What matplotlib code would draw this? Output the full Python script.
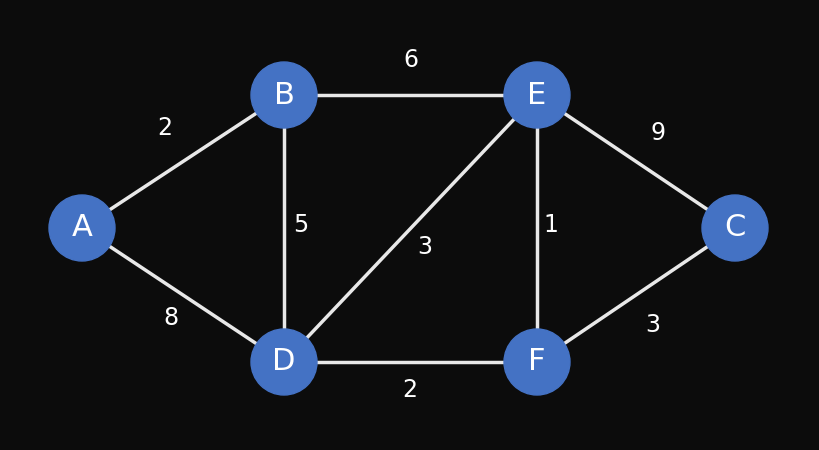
import matplotlib.pyplot as plt
from matplotlib.patches import Circle

# node positions (pixel coords of the reference)
nodes = ["A", "B", "E", "C", "D", "F"]
node_x = [82, 284, 537, 735, 284, 537]
node_y = [228, 95, 95, 228, 362, 362]

edges = [("A", "B"), ("B", "E"), ("E", "C"), ("B", "D"), ("D", "E"),
         ("E", "F"), ("A", "D"), ("D", "F"), ("F", "C")]
weights = [2, 6, 9, 5, 3, 1, 8, 2, 3]
label_x = [165, 411, 658, 301, 425, 551, 171, 410, 653]
label_y = [128, 60, 133, 225, 247, 225, 318, 390, 325]

pos = {n: (x, y) for n, x, y in zip(nodes, node_x, node_y)}

fig = plt.figure(figsize=(8.2, 4.5), dpi=100, facecolor="#0c0c0c")
ax = fig.add_axes([0, 0, 1, 1])
ax.set_facecolor("#0c0c0c")
ax.set_xlim(0, 820)
ax.set_ylim(450, 0)
ax.set_aspect("equal")
ax.axis("off")

for (a, b) in edges:
    ax.plot([pos[a][0], pos[b][0]], [pos[a][1], pos[b][1]],
            color="#e8e8e8", lw=2.5, zorder=1)

for w, x, y in zip(weights, label_x, label_y):
    ax.text(x, y, str(w), color="white", fontsize=17, ha="center", va="center")

for n in nodes:
    x, y = pos[n]
    ax.add_patch(Circle((x, y), 33, color="#4472c4", zorder=2))
    ax.text(x, y, n, color="white", fontsize=22, ha="center", va="center", zorder=3)

fig.savefig("out.png", dpi=100, facecolor=fig.get_facecolor())
